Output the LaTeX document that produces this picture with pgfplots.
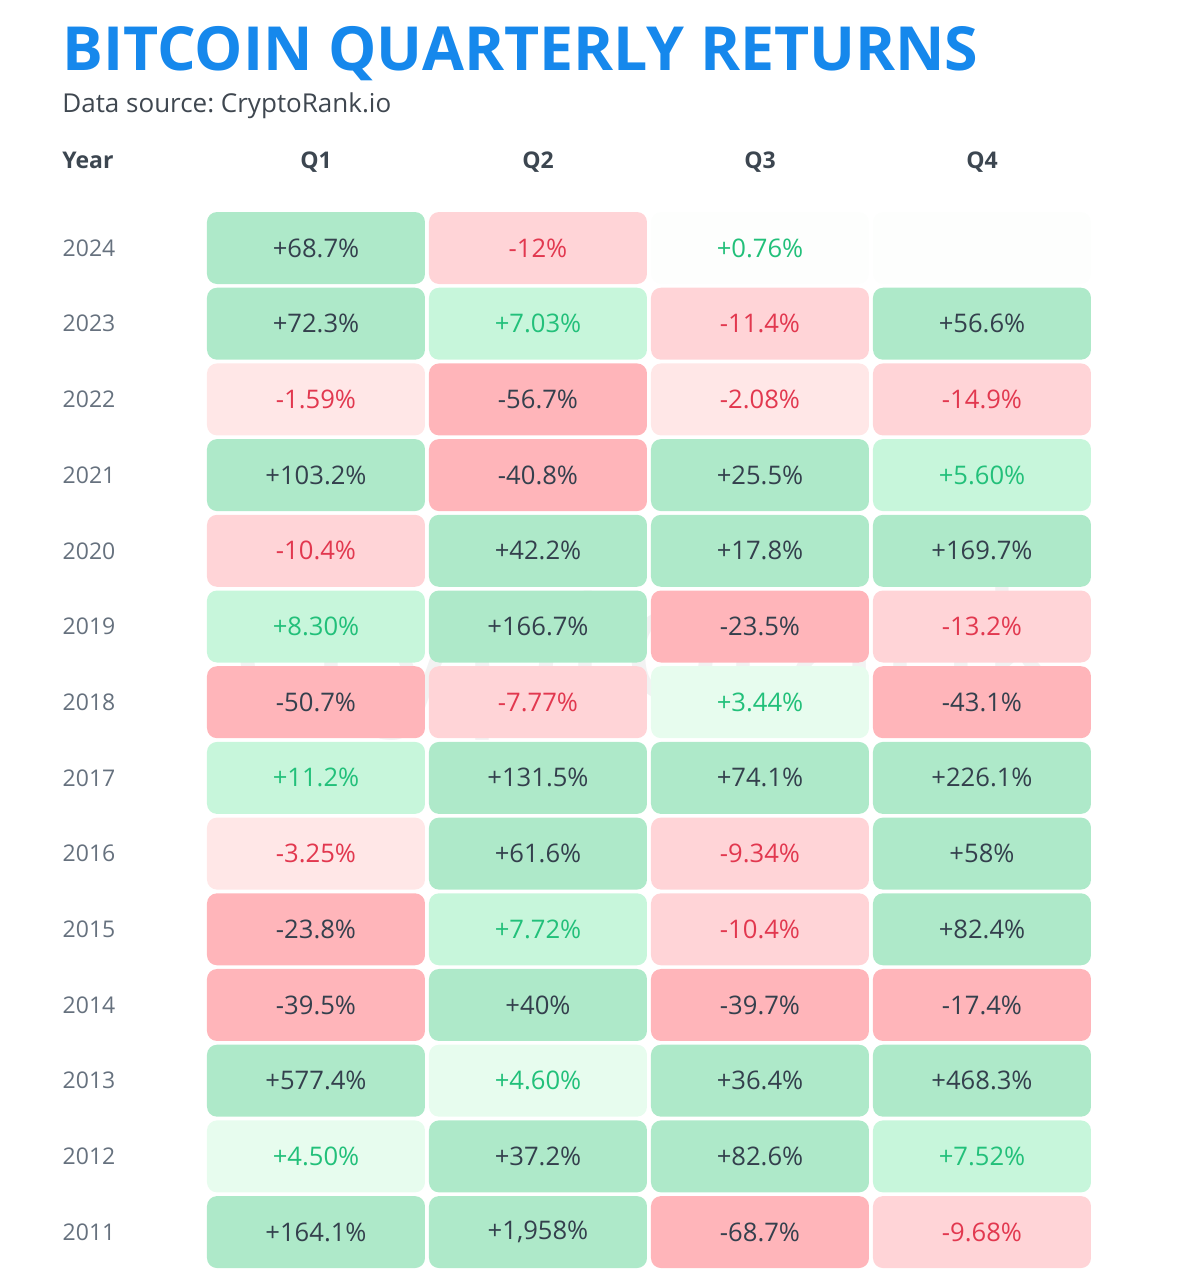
\documentclass[border=0pt]{standalone}
\usepackage{fontspec}
\setmainfont{Open Sans}
\usepackage{pgfplots}
\pgfplotsset{compat=1.18}
\frenchspacing
\definecolor{titleblue}{HTML}{1688EC}
\definecolor{dg}{HTML}{AEE9C9}
\definecolor{lg}{HTML}{C7F6DB}
\definecolor{vlg}{HTML}{E7FCEE}
\definecolor{wc}{HTML}{FDFEFD}
\definecolor{dr}{HTML}{FFB5BA}
\definecolor{mr}{HTML}{FFD4D7}
\definecolor{lr}{HTML}{FFE7E7}
\definecolor{darktxt}{HTML}{34404D}
\definecolor{greentxt}{HTML}{22C07A}
\definecolor{redtxt}{HTML}{E2384F}
\definecolor{yeartxt}{HTML}{66717E}
\definecolor{headtxt}{HTML}{3C4650}
\definecolor{subtxt}{HTML}{3F4750}
\pgfplotsset{
  cell/.style 2 args={only marks, mark=none, point meta=explicit symbolic,
    nodes near coords={\pgfplotspointmeta\%},
    every node near coord/.append style={anchor=center, shape=rectangle,
      rounded corners=5pt, fill=#1, text=#2, minimum width=109pt,
      minimum height=36pt, inner sep=0pt,
      font=\fontsize{12.8}{14}\selectfont}}
}
\begin{document}
\begin{tikzpicture}
\begin{axis}[hide axis, clip=false, y dir=reverse,
  x=111pt, y=37.85pt,
  xmin=-1.4234, xmax=3.9099, ymin=-3.276, ymax=13.633]
\path (rel axis cs:0,0) rectangle (rel axis cs:1,1);
% dark green
\addplot[cell={dg}{darktxt}] table[meta=label, row sep=\\] {
x y label\\
0 0 +68.7\\
0 1 +72.3\\ 3 1 +56.6\\
0 3 +103.2\\ 2 3 +25.5\\
1 4 +42.2\\ 2 4 +17.8\\ 3 4 +169.7\\
1 5 +166.7\\
1 7 +131.5\\ 2 7 +74.1\\ 3 7 +226.1\\
1 8 +61.6\\ 3 8 +58\\
3 9 +82.4\\
1 10 +40\\
0 11 +577.4\\ 2 11 +36.4\\ 3 11 +468.3\\
1 12 +37.2\\ 2 12 +82.6\\
0 13 +164.1\\ 1 13 +1,958\\
};
% light green
\addplot[cell={lg}{greentxt}] table[meta=label, row sep=\\] {
x y label\\
1 1 +7.03\\
3 3 +5.60\\
0 5 +8.30\\
0 7 +11.2\\
1 9 +7.72\\
3 12 +7.52\\
};
% very light green
\addplot[cell={vlg}{greentxt}] table[meta=label, row sep=\\] {
x y label\\
2 6 +3.44\\
1 11 +4.60\\
0 12 +4.50\\
};
% near white
\addplot[cell={wc}{greentxt}] table[meta=label, row sep=\\] {
x y label\\
2 0 +0.76\\
};
\addplot[cell={wc}{greentxt}, nodes near coords={}] table[meta=label, row sep=\\] {
x y label\\
3 0 none\\
};
% dark red
\addplot[cell={dr}{darktxt}] table[meta=label, row sep=\\] {
x y label\\
1 2 -56.7\\
1 3 -40.8\\
2 5 -23.5\\
0 6 -50.7\\ 3 6 -43.1\\
0 9 -23.8\\
0 10 -39.5\\ 2 10 -39.7\\ 3 10 -17.4\\
2 13 -68.7\\
};
% medium red
\addplot[cell={mr}{redtxt}] table[meta=label, row sep=\\] {
x y label\\
1 0 -12\\
2 1 -11.4\\
3 2 -14.9\\
0 4 -10.4\\
3 5 -13.2\\
1 6 -7.77\\
2 8 -9.34\\
2 9 -10.4\\
3 13 -9.68\\
};
% light red
\addplot[cell={lr}{redtxt}] table[meta=label, row sep=\\] {
x y label\\
0 2 -1.59\\
2 2 -2.08\\
0 8 -3.25\\
};
% texts
\node[anchor=base west, text=titleblue, font=\fontsize{30.4}{33}\selectfont\bfseries, inner sep=0pt] at (axis cs:-1.1441,-2.3514) {BITCOIN QUARTERLY RETURNS};
\node[anchor=base west, text=subtxt, font=\fontsize{13}{15}\selectfont, inner sep=0pt] at (axis cs:-1.1441,-1.7966) {Data source: CryptoRank.io};
\node[anchor=base west, text=headtxt, font=\fontsize{11.5}{13}\selectfont\bfseries, inner sep=0pt] at (axis cs:-1.1441,-1.0568) {Year};
\foreach \q/\xx in {Q1/0,Q2/1,Q3/2,Q4/3}{
  \edef\tmp{\noexpand\node[anchor=base, text=headtxt, font=\noexpand\fontsize{11.5}{13}\noexpand\selectfont\noexpand\bfseries, inner sep=0pt] at (axis cs:\xx,-1.0568) {\q};}
  \tmp
}
\foreach \yr [count=\i from 0] in {2024,2023,2022,2021,2020,2019,2018,2017,2016,2015,2014,2013,2012,2011}{
  \edef\tmp{\noexpand\node[anchor=center, text=yeartxt, font=\noexpand\fontsize{11.5}{13}\noexpand\selectfont, inner sep=0pt] at (axis cs:-1.0225,\i) {\yr};}
  \tmp
}
\node[anchor=base, text=black, text opacity=0.05, font=\fontsize{83}{90}\selectfont, inner sep=0pt] at (axis cs:1.5045,5.971) {cryptorank};
\end{axis}
\path (current axis.south west) rectangle (current axis.north east);
\end{tikzpicture}
\end{document}
